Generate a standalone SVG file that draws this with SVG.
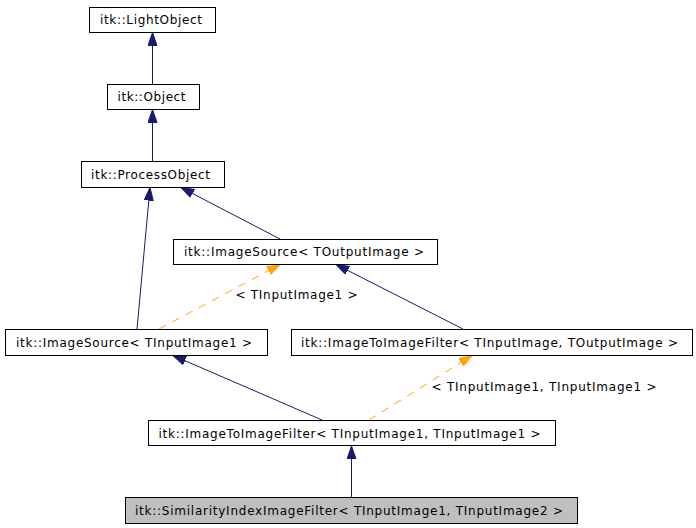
<svg xmlns="http://www.w3.org/2000/svg" width="696" height="528" viewBox="0 0 696 528">
<style>
.box{fill:#ffffff;stroke:#000000;stroke-width:1}
.main{fill:#bfbfbf;stroke:#000000;stroke-width:1}
text{font-family:"DejaVu Sans","Liberation Sans",sans-serif;font-size:12px;fill:#000000}
.inh{stroke:#191970;stroke-width:1;fill:none;marker-end:url(#an)}
.tpl{stroke:#ffa500;stroke-width:1;fill:none;stroke-dasharray:8,7;marker-end:url(#ao)}
</style>
<defs>
<marker id="an" markerUnits="userSpaceOnUse" markerWidth="14" markerHeight="10" refX="13" refY="5" orient="auto" viewBox="0 0 14 10">
<path d="M0,0.5 L13,5 L0,9.5 Z" fill="#191970" stroke="#191970" stroke-width="1"/>
</marker>
<marker id="ao" markerUnits="userSpaceOnUse" markerWidth="14" markerHeight="10" refX="13" refY="5" orient="auto" viewBox="0 0 14 10">
<path d="M0,0.5 L13,5 L0,9.5 Z" fill="#ffa500" stroke="#ffa500" stroke-width="1"/>
</marker>
</defs>
<g id="edges">
<line class="inh" x1="152.5" y1="84" x2="152.5" y2="32.5"/>
<line class="inh" x1="152.5" y1="161" x2="152.5" y2="109.5"/>
<line class="inh" x1="137" y1="329" x2="150" y2="187.5"/>
<line class="inh" x1="280" y1="239" x2="181" y2="187.5"/>
<line class="tpl" x1="159" y1="329" x2="280" y2="264.5"/>
<line class="inh" x1="463" y1="329" x2="336" y2="264.5"/>
<line class="inh" x1="322" y1="420" x2="173" y2="355.5"/>
<line class="tpl" x1="369" y1="420" x2="472" y2="355.5"/>
<line class="inh" x1="351.5" y1="497" x2="351.5" y2="446"/>
<text x="235.5" y="299" textLength="122" lengthAdjust="spacing">&lt; TInputImage1 &gt;</text>
<text x="431.5" y="390.5" textLength="225" lengthAdjust="spacing">&lt; TInputImage1, TInputImage1 &gt;</text>
</g>
<g id="LightObject">
<rect class="box" x="89.5" y="7.5" width="126" height="25"/>
<text x="100" y="24" textLength="102" lengthAdjust="spacing">itk::LightObject</text>
</g>
<g id="Object">
<rect class="box" x="107.5" y="84.5" width="92" height="25"/>
<text x="117.5" y="101" textLength="68" lengthAdjust="spacing">itk::Object</text>
</g>
<g id="ProcessObject">
<rect class="box" x="81.5" y="161.5" width="143" height="26"/>
<text x="91" y="178.5" textLength="119" lengthAdjust="spacing">itk::ProcessObject</text>
</g>
<g id="ImageSourceTOutputImage">
<rect class="box" x="173.5" y="239.5" width="264" height="25"/>
<text x="184" y="256" textLength="240" lengthAdjust="spacing">itk::ImageSource&lt; TOutputImage &gt;</text>
</g>
<g id="ImageSourceTInputImage1">
<rect class="box" x="5.5" y="329.5" width="262" height="26"/>
<text x="16" y="346.5" textLength="236" lengthAdjust="spacing">itk::ImageSource&lt; TInputImage1 &gt;</text>
</g>
<g id="ImageToImageFilterTInputTOutput">
<rect class="box" x="291.5" y="329.5" width="401" height="26"/>
<text x="301" y="346.5" textLength="377" lengthAdjust="spacing">itk::ImageToImageFilter&lt; TInputImage, TOutputImage &gt;</text>
</g>
<g id="ImageToImageFilterTInput1TInput1">
<rect class="box" x="148.5" y="420.5" width="407" height="25"/>
<text x="158.5" y="437.5" textLength="382" lengthAdjust="spacing">itk::ImageToImageFilter&lt; TInputImage1, TInputImage1 &gt;</text>
</g>
<g id="SimilarityIndexImageFilter">
<rect class="main" x="125.5" y="497.5" width="452" height="26"/>
<text x="135" y="515" textLength="428" lengthAdjust="spacing">itk::SimilarityIndexImageFilter&lt; TInputImage1, TInputImage2 &gt;</text>
</g>
</svg>
